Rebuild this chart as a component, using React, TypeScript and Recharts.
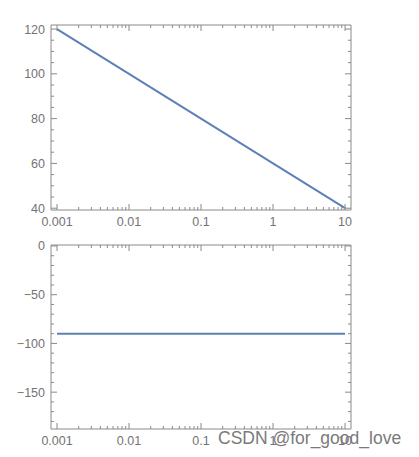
import { Line, LineChart, XAxis, YAxis } from "recharts";

// frequency (log axis) and the two responses
const freq = [0.001, 0.01, 0.1, 1, 10];
const magnitude = [120, 100, 80, 60, 40];
const phase = [-90, -90, -90, -90, -90];

const xTickValues = [0.001, 0.01, 0.1, 1, 10];
const xTickLabels = ["0.001", "0.01", "0.1", "1", "10"];
const topTickValues = [40, 60, 80, 100, 120];
const topTickLabels = ["40", "60", "80", "100", "120"];
const bottomTickValues = [-150, -100, -50, 0];
const bottomTickLabels = ["\u2212150", "\u2212100", "\u221250", "0"];

const lineColor = "#5e81b5";
const frameColor = "#8a8a8a";
const labelColor = "#737373";
const font = "'Liberation Sans', Arial, sans-serif";

const xDomain: [number, number] = [0.000825, 12.1];
const topDomain: [number, number] = [39.2, 121.8];
const bottomDomain: [number, number] = [-187.8, 1];

// minor ticks: 1..9 per decade on the log axis, evenly spaced on the linear ones
const xTicks = [0.001, 0.01, 0.1, 1].flatMap((d) => [1, 2, 3, 4, 5, 6, 7, 8, 9].map((k) => k * d)).concat([10]);
const topTicks = Array.from({ length: 17 }, (_, i) => 40 + i * 5);
const bottomTicks = Array.from({ length: 19 }, (_, i) => -180 + i * 10);

const topData = freq.map((f, i) => ({ f, v: magnitude[i] }));
const bottomData = freq.map((f, i) => ({ f, v: phase[i] }));

function findMajor(values: number[], v: number) {
  return values.findIndex((m) => Math.abs(m - v) <= 1e-9 * Math.max(1, Math.abs(m)));
}

type Side = "bottom" | "top" | "left" | "right";

function frameTick(side: Side, majors: number[], labels: string[] | null) {
  return (props: any) => {
    const { x, y, payload } = props;
    const idx = findMajor(majors, payload.value);
    const len = idx >= 0 ? 6 : 3;
    const label = labels && idx >= 0 ? labels[idx] : null;
    if (side === "bottom") {
      return (
        <g>
          <line x1={x} x2={x} y1={y} y2={y - len} stroke={frameColor} />
          {label && (
            <text x={x} y={y + 16} textAnchor="middle" fontSize={12.5} fill={labelColor} fontFamily={font}>
              {label}
            </text>
          )}
        </g>
      );
    }
    if (side === "top") {
      return <line x1={x} x2={x} y1={y} y2={y + len} stroke={frameColor} />;
    }
    if (side === "left") {
      return (
        <g>
          <line x1={x} x2={x + len} y1={y} y2={y} stroke={frameColor} />
          {label && (
            <text x={x - 6} y={y + 4.5} textAnchor="end" fontSize={12.5} fill={labelColor} fontFamily={font}>
              {label}
            </text>
          )}
        </g>
      );
    }
    return <line x1={x} x2={x - len} y1={y} y2={y} stroke={frameColor} />;
  };
}

type PanelProps = {
  data: Array<{ f: number; v: number }>;
  yDomain: [number, number];
  yTicks: number[];
  yMajors: number[];
  yLabels: string[];
  height: number;
  marginTop: number;
  xAxisHeight: number;
};

function Panel({ data, yDomain, yTicks, yMajors, yLabels, height, marginTop, xAxisHeight }: PanelProps) {
  const axisLine = { stroke: frameColor, strokeWidth: 1 };
  return (
    <LineChart width={419} height={height} data={data} margin={{ top: marginTop - 1, right: 67, bottom: 0, left: 0 }}>
      <XAxis
        dataKey="f"
        type="number"
        scale="log"
        domain={xDomain}
        allowDataOverflow
        ticks={xTicks}
        interval={0}
        tickSize={0}
        tickMargin={0}
        tickLine={false}
        axisLine={axisLine}
        height={xAxisHeight}
        tick={frameTick("bottom", xTickValues, xTickLabels)}
      />
      <XAxis
        xAxisId="top"
        orientation="top"
        dataKey="f"
        type="number"
        scale="log"
        domain={xDomain}
        allowDataOverflow
        ticks={xTicks}
        interval={0}
        tickSize={0}
        tickMargin={0}
        tickLine={false}
        axisLine={axisLine}
        height={1}
        tick={frameTick("top", xTickValues, null)}
      />
      <YAxis
        type="number"
        domain={yDomain}
        allowDataOverflow
        ticks={yTicks}
        interval={0}
        tickSize={0}
        tickMargin={0}
        tickLine={false}
        axisLine={axisLine}
        width={51}
        tick={frameTick("left", yMajors, yLabels)}
      />
      <YAxis
        yAxisId="right"
        orientation="right"
        type="number"
        domain={yDomain}
        allowDataOverflow
        ticks={yTicks}
        interval={0}
        tickSize={0}
        tickMargin={0}
        tickLine={false}
        axisLine={axisLine}
        width={1}
        tick={frameTick("right", yMajors, null)}
      />
      {/* invisible copy so the mirrored frame axes get drawn */}
      <Line
        xAxisId="top"
        yAxisId="right"
        dataKey="v"
        type="linear"
        stroke="none"
        dot={false}
        activeDot={false}
        isAnimationActive={false}
      />
      <Line
        dataKey="v"
        type="linear"
        stroke={lineColor}
        strokeWidth={2}
        dot={false}
        isAnimationActive={false}
      />
    </LineChart>
  );
}

export default function App() {
  return (
    <div style={{ position: "absolute", left: 0, top: 0, width: 419, height: 457, background: "#fff" }}>
      <Panel
        data={topData}
        yDomain={topDomain}
        yTicks={topTicks}
        yMajors={topTickValues}
        yLabels={topTickLabels}
        height={228}
        marginTop={25}
        xAxisHeight={18}
      />
      <Panel
        data={bottomData}
        yDomain={bottomDomain}
        yTicks={bottomTicks}
        yMajors={bottomTickValues}
        yLabels={bottomTickLabels}
        height={229}
        marginTop={17}
        xAxisHeight={28}
      />
      <div
        style={{
          position: "absolute",
          left: 218,
          top: 428,
          fontFamily: font,
          fontSize: 17.5,
          color: "#7a7a7a",
          whiteSpace: "nowrap",
          lineHeight: "20px"
        }}
      >
        CSDN @for_good_love
      </div>
    </div>
  );
}
